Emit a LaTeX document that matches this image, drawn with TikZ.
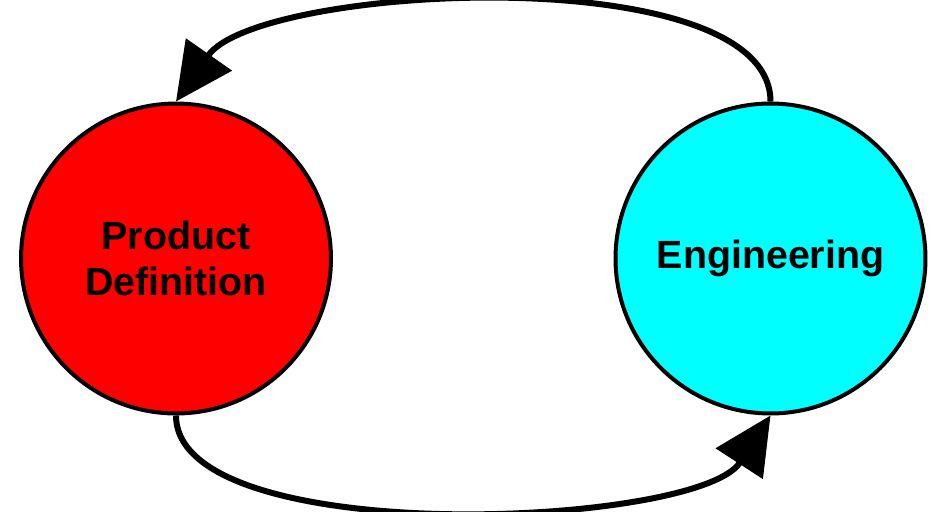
\documentclass[tikz,border=0pt]{standalone}
\usepackage{fontspec}
\setmainfont{Liberation Sans}
\usetikzlibrary{arrows.meta}

\definecolor{engcyan}{RGB}{0,255,255}
\definecolor{defred}{RGB}{255,0,0}

\tikzset{
  phase/.style={circle, draw=black, line width=0.08cm, minimum size=6.2cm,
    inner sep=0pt, align=center, font=\fontsize{22.4pt}{26pt}\selectfont\bfseries},
  loop/.style={-{Triangle[length=1.15cm, width=1.1cm]}, line width=0.12cm}
}

\begin{document}
\begin{tikzpicture}[x=0.02cm, y=-0.02cm]
        \useasboundingbox (0, 0) rectangle (933, 511);

        \node[phase, fill=defred](PD) at (176, 258.5){Product\\Definition};
        \node[phase, fill=engcyan](Eng) at (770.5, 258.5){Engineering};

        \path(Eng.north) edge [loop, out=90, in=55, looseness=0.62] node {}(PD.north);
        \path(PD.south) edge [loop, out=-90, in=-123, looseness=0.58] node {}(Eng.south);
\end{tikzpicture}
\end{document}
